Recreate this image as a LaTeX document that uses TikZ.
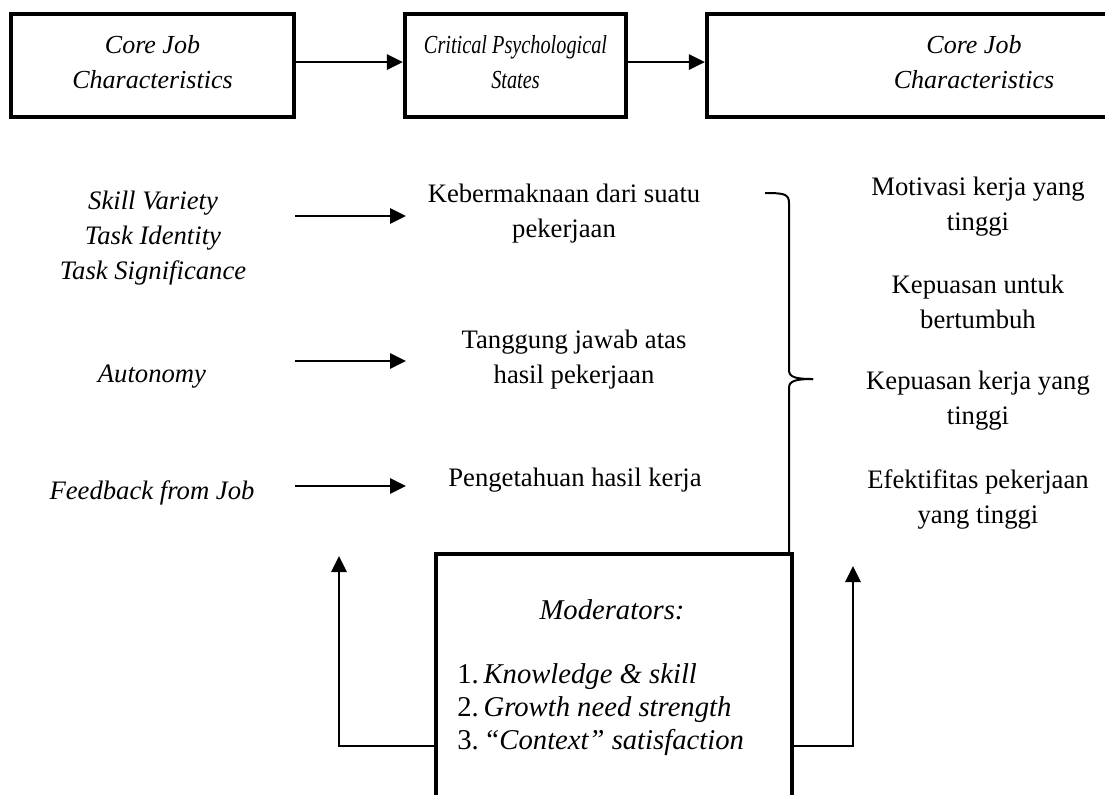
\documentclass[tikz,border=0pt]{standalone}
\usepackage{fontspec}
\setmainfont{Liberation Serif}
\usetikzlibrary{arrows.meta}
\begin{document}
\begin{tikzpicture}[x=0.75pt,y=-0.75pt,
  txt/.style={font=\fontsize{20}{26.25}\selectfont,align=center,inner sep=0pt},
  itxt/.style={txt,font=\fontsize{20}{26.25}\selectfont\itshape},
  boxtxt/.style={txt,font=\fontsize{19.5}{26.25}\selectfont\itshape},
  topbox/.style={draw,line width=3.2pt,minimum height=77.25pt,inner sep=0pt},
  arr/.style={line width=1.5pt,-{Triangle[length=12pt,width=11.5pt]}},
  plain/.style={line width=1.5pt}]
\useasboundingbox (0,0) rectangle (1105,794);
\clip (0,0) rectangle (1105,794);
% top boxes
\node[topbox,minimum width=212.25pt] (b1) at (152.5,65.5) {};
\node[topbox,minimum width=165.75pt] (b2) at (515.5,65.5) {};
\node[topbox,minimum width=402pt] (b3) at (975,65.5) {};
\node[boxtxt] (t1) at (152.5,62) {Core Job\\Characteristics};
\node[boxtxt] (t2) at (515.5,62) {\scalebox{0.78}[1]{Critical Psychological}\\\scalebox{0.78}[1]{States}};
\node[boxtxt] (t3) at (974,62) {Core Job\\Characteristics};
\draw[arr] ([yshift=2.6pt]b1.east) -- ([yshift=2.6pt]b2.west);
\draw[arr] ([yshift=2.6pt]b2.east) -- ([yshift=2.6pt]b3.west);
% left labels
\node[itxt] (l1) at (153,238) {Skill Variety\\Task Identity\\Task Significance};
\node[itxt] (l2) at (152,377) {Autonomy};
\node[itxt] (l3) at (152,493) {Feedback from Job};
% middle labels
\node[txt] (m1) at (564,214) {Kebermaknaan dari suatu\\pekerjaan};
\node[txt] (m2) at (574,360) {Tanggung jawab atas\\hasil pekerjaan};
\node[txt] (m3) at (575,480) {Pengetahuan hasil kerja};
% arrows left -> middle
\coordinate (a1s) at (295,216); \coordinate (a1e) at (406,216);
\coordinate (a2s) at (295,361); \coordinate (a2e) at (406,361);
\coordinate (a3s) at (295,486); \coordinate (a3e) at (406,486);
\draw[arr] (a1s) -- (a1e);
\draw[arr] (a2s) -- (a2e);
\draw[arr] (a3s) -- (a3e);
% right labels
\node[txt] (r1) at (978,207) {Motivasi kerja yang\\tinggi};
\node[txt] (r2) at (978,302) {Kepuasan untuk\\bertumbuh};
\node[txt] (r3) at (978,401) {Kepuasan kerja yang\\tinggi};
\node[txt] (r4) at (978,499) {Efektifitas pekerjaan\\yang tinggi};
% moderators box
\node[draw,line width=3.2pt,minimum width=267pt,minimum height=222pt,inner sep=0pt] (mod) at (614,702) {};
\node[txt,font=\fontsize{21.5}{24.75}\selectfont\itshape] (mt) at (612,610) {Moderators:};
\node[txt,anchor=west,align=left,font=\fontsize{21.5}{24.75}\selectfont] (mi) at (457,710)
  {1.\,\textit{Knowledge \& skill}\\2.\,\textit{Growth need strength}\\3.\,\textit{“Context” satisfaction}};
% brace
\coordinate (bt) at (765,193);
\coordinate (btip) at (813,379);
\draw[plain] (bt) .. controls (784,193) and (789,194) .. (789,203) -- (789,370)
  .. controls (789,377) and (795,379) .. (btip);
\draw[plain] (btip) .. controls (795,379) and (789,381) .. (789,388) -- (mod.north -| 789,0);
% feedback arrows
\coordinate (fl) at (339,556);
\coordinate (fr) at (853,566);
\draw[arr] (mod.west |- 0,746) -| (fl);
\draw[arr] (mod.east |- 0,746) -| (fr);
\end{tikzpicture}
\end{document}
